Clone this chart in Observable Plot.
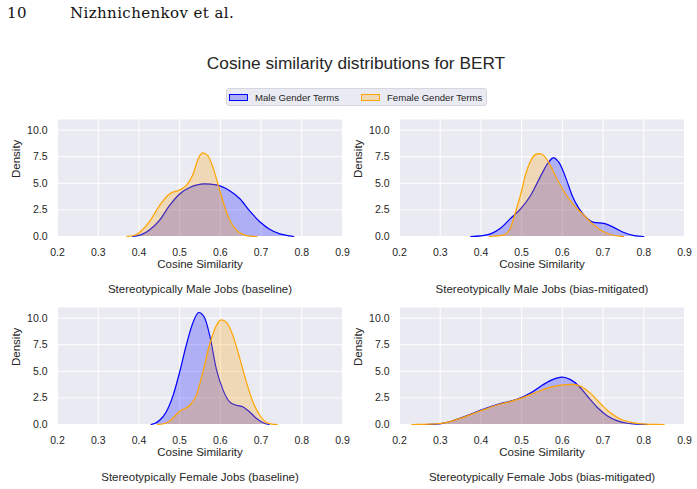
<!DOCTYPE html>
<html>
<head>
<meta charset="utf-8">
<script src="https://cdn.jsdelivr.net/npm/d3@7"></script>
<script src="https://cdn.jsdelivr.net/npm/@observablehq/plot@0.6"></script>
<style>
  body { margin: 0; background: #fff; }
  #page { position: relative; width: 697px; height: 489px; overflow: hidden;
          font-family: "Liberation Sans", Arial, sans-serif; color: #262626; }
  .abs { position: absolute; white-space: nowrap; }
  .header { font-family: "DejaVu Serif", "Liberation Serif", serif; font-size: 15px; letter-spacing: 0.4px; color: #111; line-height: 18px; }
  .title { font-size: 17.3px; line-height: 20px; text-align: center; }
  .legend { background: #EAEAF2; border: 1px solid #d6d6de; border-radius: 3px; box-sizing: border-box; }
  .legend .item { position: absolute; top: 0; height: 16px; display: flex; align-items: center; font-size: 9.6px; }
  .legend .swatch { width: 17px; height: 5px; margin-right: 7px; border-width: 1.4px; border-style: solid; }
</style>
</head>
<body>
<div id="page"></div>
<script>
// Kernel density estimates of cosine similarity, read as [similarity, density] pairs.
const maleJobsBaselineMale = [[0.385,0],[0.40,0.1],[0.41,0.25],[0.426,0.62],[0.451,1.54],[0.475,2.9],[0.50,4.0],[0.525,4.6],[0.561,4.94],[0.59,4.85],[0.623,4.3],[0.648,3.55],[0.672,2.4],[0.697,1.39],[0.721,0.68],[0.746,0.25],[0.77,0.06],[0.78,0]];
const maleJobsBaselineFemale = [[0.37,0],[0.39,0.12],[0.405,0.5],[0.426,1.39],[0.451,2.93],[0.475,4.0],[0.50,4.38],[0.516,4.78],[0.533,5.86],[0.545,7.25],[0.557,7.87],[0.57,7.56],[0.582,6.48],[0.594,4.94],[0.607,3.24],[0.623,1.54],[0.639,0.62],[0.656,0.19],[0.672,0.03],[0.69,0]];

const maleJobsMitigatedMale = [[0.375,0],[0.40,0.06],[0.424,0.25],[0.448,0.77],[0.473,1.7],[0.498,2.62],[0.522,3.86],[0.547,5.7],[0.563,6.8],[0.578,7.4],[0.592,6.94],[0.608,5.56],[0.624,3.86],[0.641,2.62],[0.661,1.7],[0.677,1.33],[0.702,1.23],[0.726,0.86],[0.751,0.37],[0.776,0.09],[0.80,0]];
const maleJobsMitigatedFemale = [[0.42,0],[0.44,0.05],[0.457,0.15],[0.473,0.85],[0.485,2.3],[0.498,4.0],[0.51,5.86],[0.522,7.1],[0.534,7.7],[0.545,7.8],[0.556,7.56],[0.571,6.64],[0.587,5.4],[0.608,4.0],[0.632,2.78],[0.653,2.0],[0.673,1.23],[0.694,0.62],[0.718,0.19],[0.743,0.02],[0.75,0]];

const femaleJobsBaselineMale = [[0.43,0],[0.44,0.12],[0.451,0.4],[0.467,1.18],[0.484,2.74],[0.50,4.92],[0.516,7.41],[0.533,9.6],[0.547,10.53],[0.561,10.06],[0.574,8.35],[0.59,5.23],[0.607,3.21],[0.623,2.12],[0.639,1.81],[0.656,1.65],[0.672,1.18],[0.689,0.56],[0.709,0.09],[0.72,0]];
const femaleJobsBaselineFemale = [[0.445,0],[0.459,0.05],[0.475,0.31],[0.50,1.25],[0.525,1.81],[0.541,2.74],[0.557,4.92],[0.574,7.57],[0.59,9.28],[0.602,9.84],[0.615,9.6],[0.631,8.35],[0.648,6.17],[0.664,3.99],[0.68,2.12],[0.697,0.87],[0.713,0.19],[0.73,0.02],[0.74,0]];

const femaleJobsMitigatedMale = [[0.25,0],[0.278,0.02],[0.302,0.09],[0.327,0.31],[0.351,0.62],[0.376,0.98],[0.40,1.35],[0.425,1.69],[0.449,1.97],[0.474,2.2],[0.498,2.52],[0.523,2.98],[0.547,3.6],[0.572,4.15],[0.60,4.45],[0.62,4.22],[0.641,3.6],[0.661,2.68],[0.686,1.6],[0.71,0.83],[0.734,0.37],[0.759,0.12],[0.784,0.03],[0.81,0]];
const femaleJobsMitigatedFemale = [[0.23,0],[0.25,0.01],[0.278,0.03],[0.302,0.1],[0.327,0.3],[0.351,0.6],[0.376,0.95],[0.40,1.3],[0.425,1.65],[0.449,1.93],[0.474,2.18],[0.498,2.46],[0.523,2.83],[0.547,3.2],[0.572,3.52],[0.60,3.72],[0.625,3.78],[0.645,3.6],[0.67,2.9],[0.694,1.95],[0.718,1.1],[0.742,0.52],[0.767,0.22],[0.792,0.06],[0.816,0.01],[0.85,0]];

const panelTitles = [
  "Stereotypically Male Jobs (baseline)",
  "Stereotypically Male Jobs (bias-mitigated)",
  "Stereotypically Female Jobs (baseline)",
  "Stereotypically Female Jobs (bias-mitigated)"
];
const seriesNames = ["Male Gender Terms", "Female Gender Terms"];
const seriesColors = ["blue", "orange"];
const xTicks = [0.2, 0.3, 0.4, 0.5, 0.6, 0.7, 0.8, 0.9];
const yTicks = [0, 2.5, 5, 7.5, 10];
const xLabel = "Cosine Similarity";
const yLabel = "Density";
const chartTitle = "Cosine similarity distributions for BERT";
const pageNumber = "10";
const runningHead = "Nizhnichenkov et al.";

const page = document.getElementById("page");

function addDiv(cls, text, css) {
  const d = document.createElement("div");
  d.className = "abs " + cls;
  if (text != null) d.textContent = text;
  Object.assign(d.style, css);
  page.appendChild(d);
  return d;
}

// Running head
addDiv("header", pageNumber, {left: "7px", top: "4px"});
addDiv("header", runningHead, {left: "70px", top: "4px"});

// Figure title
addDiv("title", chartTitle, {left: "0px", top: "53px", width: "712px"});

// Legend
const legend = addDiv("legend", null, {left: "226px", top: "88px", width: "261px", height: "18px"});
const legendX = [2, 134];
seriesNames.forEach((name, i) => {
  const item = document.createElement("div");
  item.className = "item";
  item.style.left = legendX[i] + "px";
  const sw = document.createElement("span");
  sw.className = "swatch";
  sw.style.borderColor = seriesColors[i];
  sw.style.background = i === 0 ? "rgba(0,0,255,0.25)" : "rgba(255,165,0,0.25)";
  item.appendChild(sw);
  item.appendChild(document.createTextNode(name));
  legend.appendChild(item);
});

// One density panel: two filled KDE curves on a darkgrid background
function panel(male, female, subtitle) {
  const series = [male, female];
  const marks = [
    Plot.frame({fill: "#EAEAF2", stroke: "none"}),
    Plot.gridX(xTicks, {stroke: "#fff", strokeOpacity: 1, strokeWidth: 1}),
    Plot.gridY(yTicks, {stroke: "#fff", strokeOpacity: 1, strokeWidth: 1})
  ];
  series.forEach((data, i) => {
    marks.push(Plot.areaY(data, {x: d => d[0], y: d => d[1], fill: seriesColors[i], fillOpacity: 0.25, curve: "monotone-x"}));
    marks.push(Plot.lineY(data, {x: d => d[0], y: d => d[1], stroke: seriesColors[i], strokeWidth: 1.2, curve: "monotone-x"}));
  });
  marks.push(
    Plot.axisX(xTicks, {tickSize: 0, tickPadding: 12, tickFormat: d3.format(".1f"), label: null, fontSize: 10.5}),
    Plot.axisY(yTicks, {tickSize: 0, tickPadding: 10, tickFormat: d3.format(".1f"), label: null, fontSize: 10.5}),
    Plot.text([xLabel], {frameAnchor: "bottom", dy: 31, text: d => d, fontSize: 11.5}),
    Plot.text([subtitle], {frameAnchor: "bottom", dy: 56.5, text: d => d, fontSize: 11.5}),
    Plot.text([yLabel], {frameAnchor: "left", dx: -41, rotate: -90, text: d => d, fontSize: 11.5})
  );
  return Plot.plot({
    width: 345, height: 186,
    marginLeft: 57, marginRight: 3, marginTop: 9, marginBottom: 60,
    x: {domain: [0.2, 0.9]},
    y: {domain: [0, 11]},
    style: {background: "transparent", color: "#262626", fontFamily: "'Liberation Sans', Arial, sans-serif", overflow: "visible"},
    marks
  });
}

const panels = [
  [maleJobsBaselineMale, maleJobsBaselineFemale, panelTitles[0], 0, 110],
  [maleJobsMitigatedMale, maleJobsMitigatedFemale, panelTitles[1], 342, 110],
  [femaleJobsBaselineMale, femaleJobsBaselineFemale, panelTitles[2], 0, 298],
  [femaleJobsMitigatedMale, femaleJobsMitigatedFemale, panelTitles[3], 342, 298]
];
panels.forEach(([m, f, t, left, top]) => {
  const svg = panel(m, f, t);
  svg.style.position = "absolute";
  svg.style.left = left + "px";
  svg.style.top = top + "px";
  page.appendChild(svg);
});
</script>
</body>
</html>
